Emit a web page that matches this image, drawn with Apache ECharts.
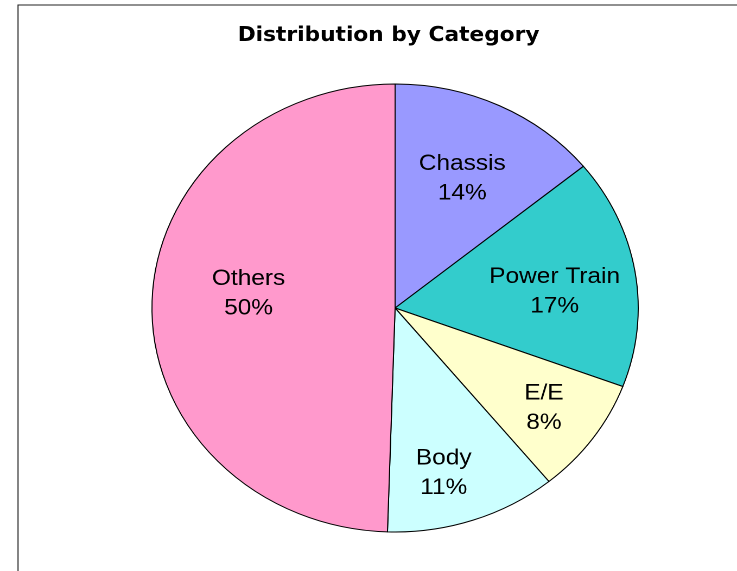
<!DOCTYPE html>
<html><head><meta charset="utf-8">
<script src="https://cdn.jsdelivr.net/npm/echarts@6/dist/echarts.min.js"></script>
<style>
html,body{margin:0;padding:0;background:#fff;overflow:hidden}
#wrap{width:737px;height:571px;position:relative;overflow:hidden;background:#fff}
#chart{position:absolute;left:0;top:0;width:679px;height:571px;transform:scaleX(1.0854);transform-origin:0 0}
</style></head><body>
<div id="wrap"><div id="chart"></div></div>
<script>
const categories = ['Chassis', 'Power Train', 'E/E', 'Body', 'Others'];
const values = [14.1, 16.6, 8.4, 11.4, 49.5];
const sliceColors = ['#9999FF', '#33CCCC', '#FFFFCC', '#CCFFFF', '#FF99CC'];
const titleText = 'Distribution by Category';
const labelOffsets = { 'Chassis': [-2, 5], 'Power Train': [0, 8], 'E/E': [16, 13], 'Body': [-3, 24], 'Others': [14, -12] };

const chart = echarts.init(document.getElementById('chart'), null, { renderer: 'canvas', devicePixelRatio: 2 });
const center = [364, 308];
const labelFont = { fontFamily: '"Liberation Sans", Arial, sans-serif', fontSize: 22.5, color: '#000', lineHeight: 29.5 };

chart.setOption({
  animation: false,
  backgroundColor: '#fff',
  title: {
    text: titleText,
    left: 353,
    top: 21,
    textAlign: 'center',
    textStyle: { fontFamily: '"DejaVu Sans", sans-serif', fontSize: 20, fontWeight: 'bold', color: '#000' }
  },
  graphic: [{
    type: 'rect', silent: true, z: 0,
    shape: { x: 16.6, y: 5, width: 900, height: 900 },
    style: { fill: 'none', stroke: '#222', lineWidth: 1 }
  }],
  series: [{
    type: 'pie',
    silent: true,
    center: center,
    radius: 224,
    startAngle: 90,
    clockwise: true,
    percentPrecision: 0,
    label: { show: false },
    labelLine: { show: false },
    emphasis: { disabled: true },
    itemStyle: { borderColor: '#000', borderWidth: 1 },
    data: categories.map((c, i) => ({ name: c, value: values[i], itemStyle: { color: sliceColors[i] } }))
  }, {
    type: 'pie',
    silent: true,
    center: center,
    radius: 292,
    startAngle: 90,
    clockwise: true,
    percentPrecision: 0,
    z: 5,
    itemStyle: { color: 'rgba(0,0,0,0)', borderWidth: 0 },
    emphasis: { disabled: true },
    labelLine: { show: false },
    label: Object.assign({ show: true, position: 'inside', formatter: '{b}\n{d}%' }, labelFont),
    data: categories.map((c, i) => ({ name: c, value: values[i], label: { offset: labelOffsets[c] } }))
  }]
});
</script>
</body></html>
